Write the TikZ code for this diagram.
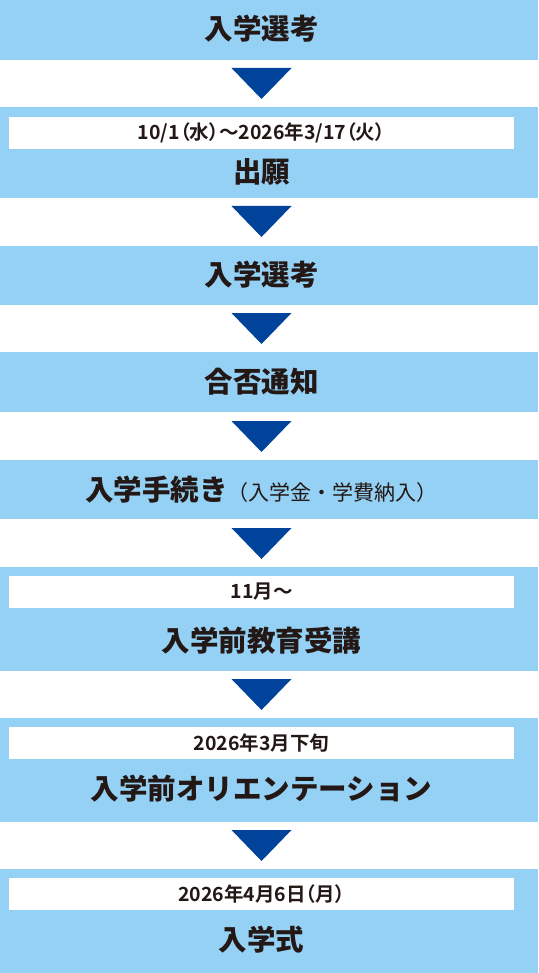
\documentclass[tikz,border=0pt]{standalone}
\usepackage{fontspec}
\setmainfont{Noto Sans CJK JP}[BoldFont={Noto Sans CJK JP Black}]
\newfontfamily\datefont{Noto Sans CJK JP Bold}[RawFeature=+palt]
\definecolor{bandblue}{HTML}{94D1F5}
\definecolor{arrowblue}{HTML}{00439A}
\definecolor{inkblack}{HTML}{231815}

\begin{document}
\begin{tikzpicture}[x=1pt, y=-1pt,
    band/.style={fill=bandblue, draw=none, minimum width=538pt, inner sep=0pt, anchor=north west},
    datebox/.style={fill=white, draw=none, minimum width=505pt, minimum height=32pt, inner sep=0pt, anchor=north west},
    title/.style={text=inkblack, inner sep=0pt, font=\fontsize{28.5}{30}\selectfont\bfseries},
    datetext/.style={text=inkblack, inner sep=0pt, font=\datefont\fontsize{19.5}{21}\selectfont}]
    \useasboundingbox (0,0) rectangle (538,973);
    % Bands
    \node [band, minimum height=60pt]  (b1) at (0,0) {};
    \node [band, minimum height=91pt]  (b2) at (0,107) {};
    \node [band, minimum height=59pt]  (b3) at (0,246) {};
    \node [band, minimum height=60pt]  (b4) at (0,352) {};
    \node [band, minimum height=59pt]  (b5) at (0,460) {};
    \node [band, minimum height=104pt] (b6) at (0,567) {};
    \node [band, minimum height=104pt] (b7) at (0,718) {};
    \node [band, minimum height=104pt] (b8) at (0,869) {};
    % Date boxes
    \node [datebox] (d2) at (9,117) {};
    \node [datebox] (d6) at (9,576) {};
    \node [datebox] (d7) at (9,727) {};
    \node [datebox] (d8) at (9,878) {};
    % Arrows
    \foreach \y in {68,206,313,421,528,679,830}
        \fill [arrowblue] (231.5,\y) -- (291.5,\y) -- (261.5,\y+31) -- cycle;
    % Labels
    \node [datetext] (dt2) at (261.5,133) {10/1（水）～2026年3/17（火）};
    \node [datetext] (dt6) at (261.5,592) {11月～};
    \node [datetext] (dt7) at (261.5,743) {2026年3月下旬};
    \node [datetext] (dt8) at (261.5,894) {2026年4月6日（月）};
    \node [title] (t1) at (261.5,29)  {入学選考};
    \node [title] (t2) at (261.5,172) {出願};
    \node [title] (t3) at (261.5,275) {入学選考};
    \node [title] (t4) at (261.5,382) {合否通知};
    \node [title] (t5) at (261.5,490) {入学手続き{\mdseries\fontsize{21}{22}\selectfont（入学金・学費納入）}};
    \node [title] (t6) at (261.5,641) {入学前教育受講};
    \node [title] (t7) at (261.5,789) {入学前オリエンテーション};
    \node [title] (t8) at (261.5,940) {入学式};
\end{tikzpicture}
\end{document}
